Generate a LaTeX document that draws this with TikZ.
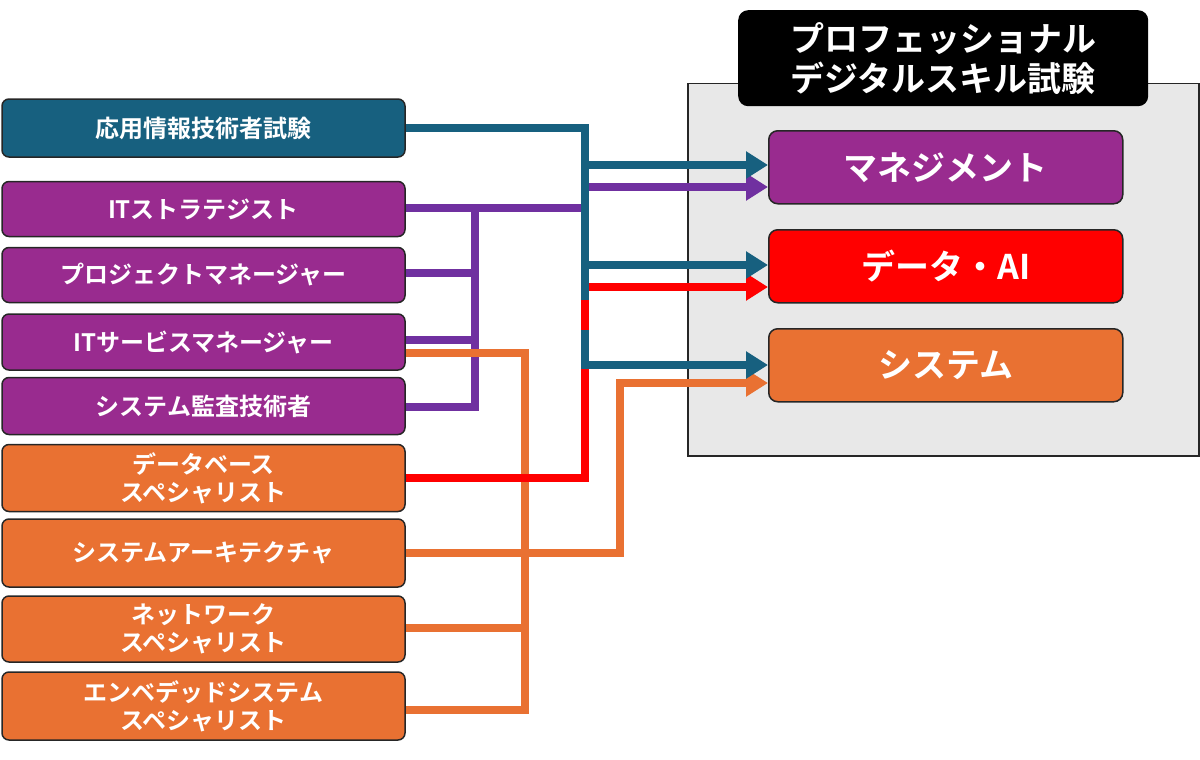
\documentclass[tikz,border=0pt]{standalone}
\usepackage{fontspec}
\setmainfont{Noto Sans CJK JP}[BoldFont={* Bold}]
\usetikzlibrary{arrows.meta}
\definecolor{teal1}{HTML}{17607F}
\definecolor{purp}{HTML}{992B8F}
\definecolor{purpl}{HTML}{7030A0}
\definecolor{oran}{HTML}{E97132}
\definecolor{gry}{HTML}{E8E8E8}
\begin{document}
\begin{tikzpicture}[x=1pt,y=-1pt,
 lb/.style={draw=black!85,line width=1.5pt,rounded corners=7pt,minimum width=403pt,text=white,font=\bfseries\fontsize{24}{28}\selectfont,align=center,inner sep=0pt},
 rb/.style={draw=black!85,line width=1.5pt,rounded corners=9pt,minimum width=354pt,minimum height=73pt,text=white,font=\bfseries\fontsize{34}{38}\selectfont,inner sep=0pt},
 ln/.style={line width=8pt},
 ar/.style={line width=8pt,-{Triangle[length=22pt,width=26pt]}}]
\useasboundingbox (0,0) rectangle (1200,760);
\node[draw=black!85,line width=1.5pt,fill=gry,minimum width=511pt,minimum height=372pt,anchor=north west,inner sep=0pt] (bg) at (687,83) {};
\node[fill=black,rounded corners=10pt,minimum width=410pt,minimum height=96pt,text=white,font=\bfseries\fontsize{34}{40}\selectfont,align=center,anchor=north west,inner sep=0pt] (title) at (738,10) {プロフェッショナル\\デジタルスキル試験};
\node[rb,fill=purp,anchor=north west] (m) at (768,130) {マネジメント};
\node[rb,fill=red,anchor=north west] (d) at (768,229) {データ・AI};
\node[rb,fill=oran,anchor=north west] (s) at (768,328) {システム};

\node[lb,fill=teal1,minimum height=58pt] (a) at (203.5,128) {応用情報技術者試験};
\node[lb,fill=purp,minimum height=55pt] (p1) at (203.5,209) {ITストラテジスト};
\node[lb,fill=purp,minimum height=55pt] (p2) at (203.5,275) {プロジェクトマネージャー};
\node[lb,fill=purp,minimum height=56pt] (p3) at (203.5,342) {ITサービスマネージャー};
\node[lb,fill=purp,minimum height=57pt] (p4) at (203.5,406) {システム監査技術者};
\node[lb,fill=oran,minimum height=67pt] (o1) at (203.5,478) {データベース\\スペシャリスト};
\node[lb,fill=oran,minimum height=68pt] (o2) at (203.5,553) {システムアーキテクチャ};
\node[lb,fill=oran,minimum height=66pt] (o3) at (203.5,629) {ネットワーク\\スペシャリスト};
\node[lb,fill=oran,minimum height=68pt] (o4) at (203.5,706) {エンベデッドシステム\\スペシャリスト};

% purple
\draw[ln,purpl] (p1.east|-0,208) -- (585,208) -- (585,187);
\draw[ar,purpl] (585,187) -- (m.west|-0,187);
\draw[ln,purpl,line cap=butt] (475,204) -- (475,411);
\draw[ln,purpl] (p2.east|-0,273) -- (475,273);
\draw[ln,purpl] (p3.east|-0,340) -- (475,340);
\draw[ln,purpl] (p4.east|-0,407) -- (479,407);
% orange
\draw[ln,oran] (p3.east|-0,353) -- (525,353) -- (525,710) -- (o4.east|-0,710);
\draw[ln,oran] (o3.east|-0,628) -- (525,628);
\draw[ln,oran] (o2.east|-0,553) -- (620,553) -- (620,383);
\draw[ar,oran] (616,383) -- (s.west|-0,383);
% red
\draw[ln,red] (o1.east|-0,478) -- (585,478) -- (585,287);
\draw[ar,red] (581,287) -- (d.west|-0,287);
% teal
\draw[ln,teal1] (a.east|-0,128) -- (585,128) -- (585,268);
\draw[ln,teal1] (585,268) -- (585,300);
\draw[ln,teal1] (585,330) -- (585,369);
\draw[ar,teal1] (585,165) -- (m.west|-0,165);
\draw[ar,teal1] (585,265) -- (d.west|-0,265);
\draw[ar,teal1] (589,365) -- (s.west|-0,365);
\end{tikzpicture}
\end{document}
